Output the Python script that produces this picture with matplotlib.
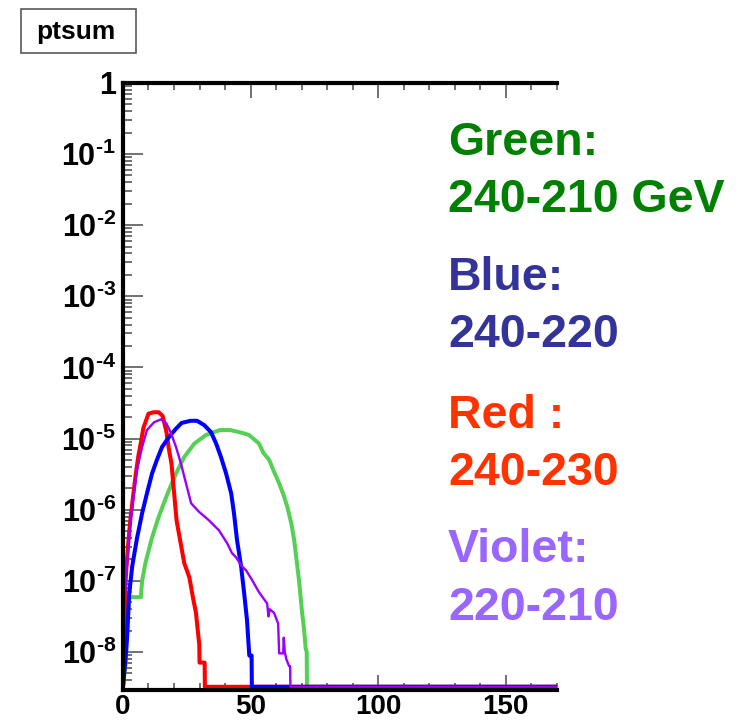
import numpy as np
import matplotlib
matplotlib.use('Agg')
from matplotlib import pyplot as plt
from matplotlib.patches import Rectangle
from matplotlib.ticker import LogLocator, MultipleLocator, NullFormatter

plt.rcParams['font.family'] = 'Liberation Sans'
plt.rcParams['mathtext.fontset'] = 'custom'
plt.rcParams['mathtext.rm'] = 'Liberation Sans:bold'
plt.rcParams['mathtext.bf'] = 'Liberation Sans:bold'
plt.rcParams['mathtext.it'] = 'Liberation Sans:bold'
plt.rcParams['mathtext.default'] = 'bf'

# histogram contents, log10 of bin value (nan = empty bin)
nan = np.nan
green_x = [0, 1, 1.6, 2.4, 7.0, 7.5, 8.8, 11.4, 14, 17.5, 20.8, 24, 28, 32.5, 38, 42,
           46.7, 49.4, 53.3, 55, 57.3, 59, 61.2, 63, 64.4, 66, 67.1, 68, 69,
           70.2, 71, 71.6, 72, 72.1, 200]
green_lg = [nan, -8.16, -7.74, -7.23, -7.23, -7.0, -6.75, -6.39, -6.1, -5.77, -5.49,
            -5.26, -5.07, -4.95, -4.88, -4.88, -4.92, -4.95, -5.07, -5.2, -5.3, -5.45,
            -5.63, -5.8, -5.96, -6.2, -6.43, -6.7, -7.0, -7.45, -7.7, -7.95, -8.0,
            nan, nan]

red_x = [0, 0.5, 1, 2, 3, 4, 5, 6, 7, 8, 10, 12, 14, 15.5, 17, 18, 19, 20, 21,
         22, 23, 24, 26, 27.5, 28.6, 29.9, 30, 32, 32.1, 200]
red_lg = [nan, -8.2, -7.0, -6.5, -6.1, -5.8, -5.5, -5.25, -5.06, -4.85, -4.65,
          -4.63, -4.63, -4.68, -4.9, -5.15, -5.35, -5.75, -6.15, -6.35, -6.55,
          -6.75, -6.95, -7.25, -7.45, -7.9, -8.15, -8.15, nan, nan]

blue_x = [0, 1, 1.6, 2.4, 3.6, 5.5, 7.5, 9.4, 11.4, 13.3, 15.3, 18, 20.8, 23,
          26.5, 29, 31.8, 34.5, 36.5, 38.4, 40.4, 42.4, 43.5, 44.7, 46.3, 47.5,
          48.6, 49.5, 50.4, 50.5, 200]
blue_lg = [nan, -8.1, -7.8, -7.2, -6.8, -6.4, -6.05, -5.77, -5.49, -5.3, -5.12,
           -4.98, -4.86, -4.78, -4.75, -4.75, -4.81, -4.91, -5.07, -5.26, -5.49,
           -5.77, -6.05, -6.43, -6.8, -7.18, -7.55, -8.05, -8.05, nan, nan]

violet_x = [0, 0.4, 1.6, 3, 4.3, 5.5, 7.5, 9.4, 12.2, 14.9, 16.9, 18.8, 20.8,
            22.7, 24.7, 26.7, 29.8, 33.7, 37.6, 40.8, 42.7, 44.3, 46.7, 48.2,
            50.6, 53.3, 56.5, 57, 57.5, 59.2, 60.8, 61.2, 62.8, 63.0, 63.4, 64,
            65.1, 65.5, 65.6, 200]
violet_lg = [nan, -7.45, -6.75, -6.15, -5.77, -5.44, -5.12, -4.88, -4.77, -4.73,
             -4.78, -4.92, -5.12, -5.35, -5.63, -5.91, -6.03, -6.15, -6.29, -6.47,
             -6.61, -6.67, -6.8, -6.85, -6.99, -7.16, -7.32, -7.5, -7.4, -7.45,
             -7.6, -8.02, -8.02, -7.8, -8.0, -8.1, -8.2, -8.2, nan, nan]

x_ticks = [0, 50, 100, 150]
x_labels = ['0', '50', '100', '150']
y_ticks = [1e-8, 1e-7, 1e-6, 1e-5, 1e-4, 1e-3, 1e-2, 1e-1, 1]
y_labels = ['10$^{\\text{-8}}$', '10$^{\\text{-7}}$', '10$^{\\text{-6}}$',
            '10$^{\\text{-5}}$', '10$^{\\text{-4}}$', '10$^{\\text{-3}}$',
            '10$^{\\text{-2}}$', '10$^{\\text{-1}}$', '1']

legend_lines = [('Green:', '#008000'), ('240-210 GeV', '#008000'),
                ('Blue:', '#333399'), ('240-220', '#333399'),
                ('Red :', '#ff3300'), ('240-230', '#ff3300'),
                ('Violet:', '#9966ff'), ('220-210', '#9966ff')]

ymin = 10 ** -8.535
floor = 10 ** -8.49  # empty bins drawn just above the frame, like ROOT


def contents(lg):
    lg = np.array(lg, dtype=float)
    return np.where(np.isnan(lg), floor, 10 ** lg)


fig = plt.figure(figsize=(7.48, 7.21), dpi=100)
ax = fig.add_axes([0.1644, 0.043, 0.580, 0.842])
ax.set_yscale('log')

ax.plot(green_x, contents(green_lg), color='#55d055', lw=2.9)
ax.plot(red_x, contents(red_lg), color='#ff0000', lw=2.9)
ax.plot(blue_x, contents(blue_lg), color='#0000ff', lw=2.9)
ax.plot(violet_x, contents(violet_lg), color='#9900ff', lw=1.7)

ax.set_xlim(0, 170)
ax.set_ylim(ymin, 1)

for s in ['left', 'top', 'bottom']:
    ax.spines[s].set_linewidth(3)
ax.spines['right'].set_visible(False)

ax.set_xticks(x_ticks, x_labels, fontsize=20, fontweight='bold')
ax.xaxis.set_minor_locator(MultipleLocator(10))
ax.set_yticks(y_ticks, y_labels, fontsize=22, fontweight='bold')
ax.yaxis.set_minor_locator(LogLocator(base=10, subs=np.arange(2, 10), numticks=40))
ax.yaxis.set_minor_formatter(NullFormatter())

ax.tick_params(axis='x', which='both', direction='in', top=True, bottom=True,
               color='0.35', width=1.2, pad=3)
ax.tick_params(axis='x', which='major', length=11)
ax.tick_params(axis='x', which='minor', length=5)
ax.tick_params(axis='y', which='both', direction='in', left=True, right=False,
               color='0.35', width=1.2, pad=5)
ax.tick_params(axis='y', which='major', length=14.5)
ax.tick_params(axis='y', which='minor', length=6.5)

# title box
fig.patches.append(Rectangle((0.028, 0.9265), 0.154, 0.061, transform=fig.transFigure,
                             facecolor='white', edgecolor='0.35', lw=1.2))
fig.text(75.5 / 748, 1 - 39.5 / 721, 'ptsum', ha='center', va='baseline',
         fontsize=19, fontweight='bold')

baselines = [155, 212, 290, 347, 428, 485, 562, 620]
for (txt, col), yb in zip(legend_lines, baselines):
    fig.text(448 / 748, 1 - yb / 721, txt, color=col, fontsize=33.5,
             fontweight='bold', va='baseline', ha='left')

fig.savefig('out.png', dpi=100)
